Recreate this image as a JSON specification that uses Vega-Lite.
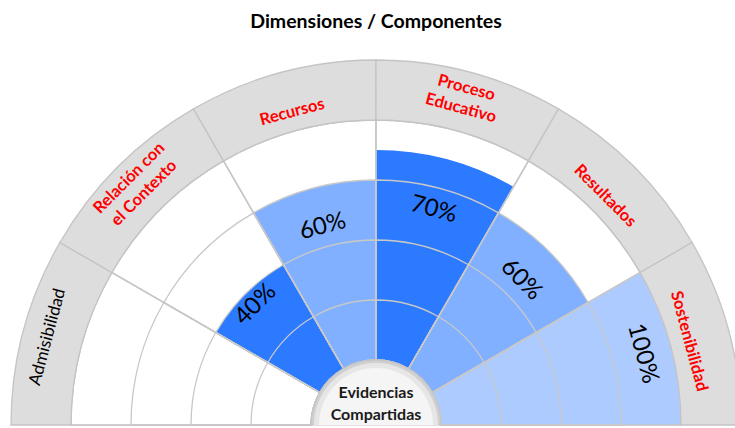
{
  "$schema": "https://vega.github.io/schema/vega-lite/v6.json",
  "autosize": "none",
  "width": 718,
  "height": 385,
  "padding": {"left": 17, "top": 40, "right": 0, "bottom": 3},
  "background": "white",
  "title": {"text": "Dimensiones / Componentes", "font": "Lato", "fontSize": 19.5, "fontWeight": "bold", "color": "#000000", "anchor": "middle", "offset": 8},
  "config": {"view": {"stroke": null}},
  "data": {"values": [
    {"orden": 1, "componente": "Admisibilidad", "etiqueta": "Admisibilidad", "valor": 0},
    {"orden": 2, "componente": "Relación con el Contexto", "etiqueta": ["Relación con", "el Contexto"], "valor": 0.4},
    {"orden": 3, "componente": "Recursos", "etiqueta": "Recursos", "valor": 0.6},
    {"orden": 4, "componente": "Proceso Educativo", "etiqueta": ["Proceso", "Educativo"], "valor": 0.7},
    {"orden": 5, "componente": "Resultados", "etiqueta": "Resultados", "valor": 0.6},
    {"orden": 6, "componente": "Sostenibilidad", "etiqueta": "Sostenibilidad", "valor": 1.0}
  ]},
  "layer": [
    {
      "mark": {"type": "arc", "radius": 305, "radius2": 65, "fill": "white", "stroke": "#C8C8C8", "strokeWidth": 1.2, "x": {"expr": "width/2"}, "y": {"expr": "height"}},
      "encoding": {
        "theta": {"aggregate": "count", "type": "quantitative", "stack": true, "scale": {"domain": [0, 6], "range": [-1.5708, 1.5708]}},
        "order": {"field": "orden", "type": "quantitative"},
        "detail": {"field": "componente"}
      }
    },
    {
      "transform": [
        {"aggregate": [{"op": "count", "as": "n"}], "groupby": ["orden", "componente", "valor"]},
        {"stack": "n", "groupby": [], "sort": [{"field": "orden", "order": "ascending"}], "as": ["ini", "fin"]}
      ],
      "mark": {"type": "arc", "radius2": 65, "x": {"expr": "width/2"}, "y": {"expr": "height"}},
      "encoding": {
        "theta": {"field": "ini", "type": "quantitative", "stack": null, "scale": {"domain": [0, 6], "range": [-1.5708, 1.5708]}},
        "theta2": {"field": "fin"},
        "radius": {"field": "valor", "type": "quantitative", "stack": null, "scale": {"type": "linear", "domain": [0, 1], "range": [65, 365], "zero": false}},
        "color": {"field": "valor", "type": "ordinal", "legend": null, "scale": {"domain": [0, 0.4, 0.6, 0.7, 1], "range": ["#FFFFFF", "#2B7AFF", "#80B0FF", "#2B7AFF", "#ADCBFF"]}}
      }
    },
    {
      "mark": {"type": "arc", "radius": 125, "radius2": 65, "filled": false, "stroke": "#C8C8C8", "strokeWidth": 1.3, "x": {"expr": "width/2"}, "y": {"expr": "height"}},
      "encoding": {
        "theta": {"aggregate": "count", "type": "quantitative", "stack": true, "scale": {"domain": [0, 6], "range": [-1.5708, 1.5708]}},
        "order": {"field": "orden", "type": "quantitative"},
        "detail": {"field": "componente"}
      }
    },
    {
      "mark": {"type": "arc", "radius": 185, "radius2": 65, "filled": false, "stroke": "#C8C8C8", "strokeWidth": 1.3, "x": {"expr": "width/2"}, "y": {"expr": "height"}},
      "encoding": {
        "theta": {"aggregate": "count", "type": "quantitative", "stack": true, "scale": {"domain": [0, 6], "range": [-1.5708, 1.5708]}},
        "order": {"field": "orden", "type": "quantitative"},
        "detail": {"field": "componente"}
      }
    },
    {
      "mark": {"type": "arc", "radius": 245, "radius2": 65, "filled": false, "stroke": "#C8C8C8", "strokeWidth": 1.3, "x": {"expr": "width/2"}, "y": {"expr": "height"}},
      "encoding": {
        "theta": {"aggregate": "count", "type": "quantitative", "stack": true, "scale": {"domain": [0, 6], "range": [-1.5708, 1.5708]}},
        "order": {"field": "orden", "type": "quantitative"},
        "detail": {"field": "componente"}
      }
    },
    {
      "mark": {"type": "arc", "radius": 305, "radius2": 65, "filled": false, "stroke": "#C8C8C8", "strokeWidth": 1.3, "x": {"expr": "width/2"}, "y": {"expr": "height"}},
      "encoding": {
        "theta": {"aggregate": "count", "type": "quantitative", "stack": true, "scale": {"domain": [0, 6], "range": [-1.5708, 1.5708]}},
        "order": {"field": "orden", "type": "quantitative"},
        "detail": {"field": "componente"}
      }
    },
    {
      "mark": {"type": "arc", "radius": 365, "radius2": 305, "fill": "#DDDDDD", "stroke": "#C4C4C4", "strokeWidth": 1.3, "x": {"expr": "width/2"}, "y": {"expr": "height"}},
      "encoding": {
        "theta": {"aggregate": "count", "type": "quantitative", "stack": true, "scale": {"domain": [0, 6], "range": [-1.5708, 1.5708]}},
        "order": {"field": "orden", "type": "quantitative"},
        "detail": {"field": "componente"}
      }
    },
    {
      "data": {"values": [{"centro": ["Evidencias", "Compartidas"]}]},
      "mark": {"type": "arc", "theta": -1.5708, "theta2": 1.5708, "radius": 65, "radius2": 0, "fill": "#D0D0D0", "stroke": "#C4C4C4", "strokeWidth": 1, "x": {"expr": "width/2"}, "y": {"expr": "height"}},
      "encoding": {}
    },
    {
      "data": {"values": [{"centro": ["Evidencias", "Compartidas"]}]},
      "mark": {"type": "arc", "theta": -1.5708, "theta2": 1.5708, "radius": 62, "radius2": 0, "fill": "#E6E6E6", "x": {"expr": "width/2"}, "y": {"expr": "height"}},
      "encoding": {}
    },
    {
      "data": {"values": [{"centro": ["Evidencias", "Compartidas"]}]},
      "mark": {"type": "arc", "theta": -1.5708, "theta2": 1.5708, "radius": 57, "radius2": 0, "fill": "#F5F5F5", "x": {"expr": "width/2"}, "y": {"expr": "height"}},
      "encoding": {}
    },
    {
      "data": {"values": [{"centro": ["Evidencias", "Compartidas"]}]},
      "mark": {"type": "text", "theta": 0, "radius": 32, "x": {"expr": "width/2"}, "y": {"expr": "height"}, "font": "Lato", "fontSize": 16, "fontWeight": "bold", "color": "#1A1A1A", "align": "center", "baseline": "middle", "lineHeight": 22},
      "encoding": {"text": {"field": "centro"}}
    },
    {
      "transform": [{"filter": "datum.valor > 0 && !isArray(datum.etiqueta)"}],
      "mark": {"type": "text", "radius": 324, "x": {"expr": "width/2"}, "y": {"expr": "height"}, "font": "Lato", "fontSize": 16.5, "fontWeight": "bold", "color": "#FF0000", "align": "center", "baseline": "middle"},
      "encoding": {
        "theta": {"field": "orden", "type": "quantitative", "stack": null, "scale": {"domain": [0.5, 6.5], "range": [-1.5708, 1.5708]}},
        "angle": {"field": "orden", "type": "quantitative", "scale": {"domain": [1, 6], "range": [-75, 75]}},
        "text": {"field": "etiqueta"}
      }
    },
    {
      "transform": [{"filter": "datum.valor > 0 && isArray(datum.etiqueta)"}],
      "mark": {"type": "text", "radius": 349, "x": {"expr": "width/2"}, "y": {"expr": "height"}, "font": "Lato", "fontSize": 16.5, "fontWeight": "bold", "color": "#FF0000", "align": "center", "baseline": "middle", "lineHeight": 21},
      "encoding": {
        "theta": {"field": "orden", "type": "quantitative", "stack": null, "scale": {"domain": [0.5, 6.5], "range": [-1.5708, 1.5708]}},
        "angle": {"field": "orden", "type": "quantitative", "scale": {"domain": [1, 6], "range": [-75, 75]}},
        "text": {"field": "etiqueta"}
      }
    },
    {
      "transform": [{"filter": "datum.valor == 0"}],
      "mark": {"type": "text", "radius": 340, "x": {"expr": "width/2"}, "y": {"expr": "height"}, "font": "Lato", "fontSize": 17, "fontWeight": "normal", "color": "#000000", "align": "center", "baseline": "middle"},
      "encoding": {
        "theta": {"field": "orden", "type": "quantitative", "stack": null, "scale": {"domain": [0.5, 6.5], "range": [-1.5708, 1.5708]}},
        "angle": {"field": "orden", "type": "quantitative", "scale": {"domain": [1, 6], "range": [-75, 75]}},
        "text": {"field": "etiqueta"}
      }
    },
    {
      "transform": [{"filter": "datum.valor > 0"}],
      "mark": {"type": "text", "x": {"expr": "width/2"}, "y": {"expr": "height"}, "font": "Lato", "fontSize": 24, "fontWeight": "normal", "color": "#000000", "align": "center", "baseline": "middle"},
      "encoding": {
        "theta": {"field": "orden", "type": "quantitative", "stack": null, "scale": {"domain": [0.5, 6.5], "range": [-1.5708, 1.5708]}},
        "radius": {"field": "valor", "type": "quantitative", "stack": null, "scale": {"type": "linear", "domain": [0, 1], "range": [99.5, 276], "zero": false}},
        "angle": {"field": "orden", "type": "quantitative", "scale": {"domain": [1, 6], "range": [-75, 75]}},
        "text": {"field": "valor", "type": "quantitative", "format": ".0%"}
      }
    }
  ],
  "resolve": {"scale": {"theta": "independent", "radius": "independent", "color": "independent", "angle": "independent"}}
}
